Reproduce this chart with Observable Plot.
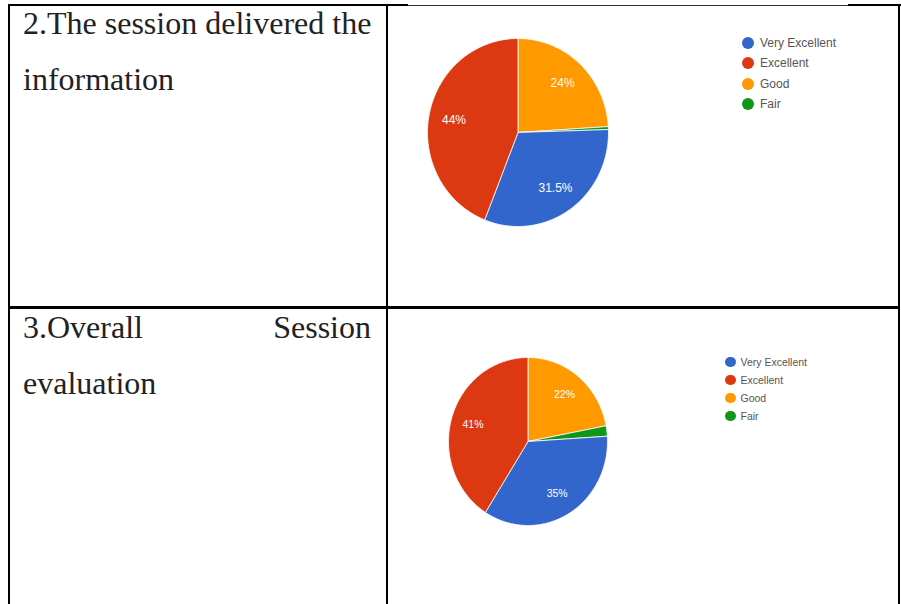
<!DOCTYPE html>
<html>
<head>
<meta charset="utf-8">
<script src="https://cdn.jsdelivr.net/npm/d3@7"></script>
<script src="https://cdn.jsdelivr.net/npm/@observablehq/plot@0.6"></script>
<style>
  html, body { margin: 0; padding: 0; background: #fff; }
  #page { position: relative; width: 901px; height: 604px; overflow: hidden; background: #fff; }
  .rule { position: absolute; background: #000; }
  .cell-text { position: absolute; font-family: "Liberation Serif", "Times New Roman", serif; font-size: 32px; line-height: 56px; color: #222; white-space: nowrap; }
  .legend { position: absolute; font-family: "Liberation Sans", Arial, sans-serif; color: #555; }
  .legend .item { display: flex; align-items: center; }
  .legend .sw { border-radius: 50%; display: inline-block; flex: none; }
  .pie { position: absolute; }
</style>
</head>
<body>
<div id="page">
  <!-- table rules -->
  <div class="rule" style="left:8px;top:4px;width:400px;height:2px"></div>
  <div class="rule" style="left:408px;top:5px;width:440px;height:1px;background:#333"></div>
  <div class="rule" style="left:848px;top:4px;width:53px;height:2px"></div>
  <div class="rule" style="left:8px;top:4px;width:2px;height:600px"></div>
  <div class="rule" style="left:386px;top:4px;width:2px;height:600px"></div>
  <div class="rule" style="left:898px;top:4px;width:2px;height:600px"></div>
  <div class="rule" style="left:8px;top:306px;width:892px;height:3px"></div>

  <div class="cell-text" style="left:23px;top:-5.5px;">2.The session delivered the<br>information</div>
  <div class="cell-text" style="left:23px;top:298.5px;width:348px;">
    <div style="display:flex;justify-content:space-between"><span>3.Overall</span><span>Session</span></div>
    <div>evaluation</div>
  </div>
</div>
<script>
// ---- data ----
const categories = ["Very Excellent", "Excellent", "Good", "Fair"];
const categoryColors = ["#3366cc", "#dc3912", "#ff9900", "#109618"];
// clockwise from 12 o'clock, as drawn in the reference
const sliceOrder = ["Good", "Fair", "Very Excellent", "Excellent"];
const session2Values = [31.5, 44, 24, 0.5];   // "The session delivered the information"
const session3Values = [35, 41, 22, 2];       // "Overall Session evaluation"

function pieGeometry(values) {
  const total = d3.sum(values);
  const byCat = new Map(categories.map((c, i) => [c, values[i]]));
  const pts = [];
  const labels = [];
  let a = 0;
  for (const cat of sliceOrder) {
    const v = byCat.get(cat);
    const a0 = a, a1 = a + (v / total) * 2 * Math.PI;
    pts.push({cat, x: 0, y: 0});
    const n = Math.max(2, Math.ceil((a1 - a0) / (Math.PI / 180)));
    for (let k = 0; k <= n; k++) {
      const t = a0 + (a1 - a0) * k / n;
      pts.push({cat, x: Math.sin(t), y: Math.cos(t)});
    }
    pts.push({cat, x: 0, y: 0});
    if (v / total >= 0.05) {
      const m = (a0 + a1) / 2;
      labels.push({cat, x: 0.72 * Math.sin(m), y: 0.72 * Math.cos(m), text: `${v}%`});
    }
    a = a1;
  }
  return {pts, labels};
}

function drawPie(values, cx, cy, rx, ry, fontSize, legend) {
  const {pts, labels} = pieGeometry(values);
  const W = Math.ceil(2 * rx + 20), H = Math.ceil(2 * ry + 20);
  const chart = Plot.plot({
    width: W, height: H, margin: 0,
    style: {fontFamily: "'Liberation Sans', Arial, sans-serif", background: "transparent", overflow: "visible"},
    x: {domain: [-1, 1], range: [W / 2 - rx, W / 2 + rx], axis: null},
    y: {domain: [-1, 1], range: [H / 2 + ry, H / 2 - ry], axis: null},
    color: {domain: categories, range: categoryColors},
    marks: [
      Plot.line(pts, {x: "x", y: "y", z: "cat", fill: "cat", stroke: "#fff", strokeWidth: 0.8, curve: "linear"}),
      Plot.text(labels, {x: "x", y: "y", text: "text", fill: "#fff", fontSize})
    ]
  });
  chart.classList.add("pie");
  chart.style.left = (cx - W / 2) + "px";
  chart.style.top = (cy - H / 2) + "px";
  document.getElementById("page").appendChild(chart);

  const lg = document.createElement("div");
  lg.className = "legend";
  lg.style.left = legend.x + "px";
  lg.style.top = legend.y + "px";
  lg.style.fontSize = legend.fontSize + "px";
  categories.forEach((c, i) => {
    const it = document.createElement("div");
    it.className = "item";
    it.style.height = legend.step + "px";
    const sw = document.createElement("span");
    sw.className = "sw";
    sw.style.width = sw.style.height = legend.dot + "px";
    sw.style.background = categoryColors[i];
    sw.style.marginRight = legend.gap + "px";
    const tx = document.createElement("span");
    tx.textContent = c;
    it.appendChild(sw); it.appendChild(tx);
    lg.appendChild(it);
  });
  document.getElementById("page").appendChild(lg);
}

drawPie(session2Values, 517, 132, 90.5, 94, 12,
  {x: 742, y: 33, fontSize: 12, step: 20.3, dot: 12, gap: 6});
drawPie(session3Values, 527.5, 441, 79.5, 84, 10.5,
  {x: 725, y: 353, fontSize: 10.5, step: 18, dot: 10.5, gap: 5});
</script>
</body>
</html>
